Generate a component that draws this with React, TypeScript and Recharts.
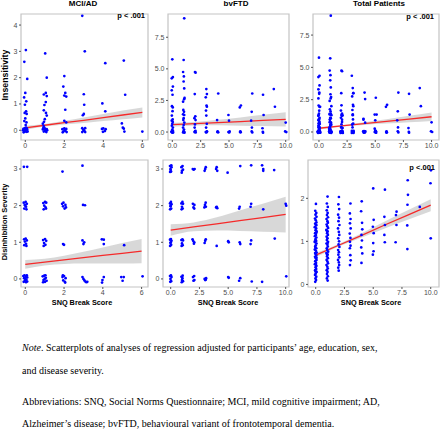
import { ComposedChart, Scatter, Line, Area, XAxis, YAxis, ReferenceArea } from 'recharts'

type Pt = [number, number]

// fitted line + 95% band: [x, fit, lo, hi]
type Fit = [number, number, number, number]

const mciIns: Pt[] = [
  [0.03, 3.05], [-0.05, 2.6], [0.1, 1.95], [0, 1.42], [-0.06, 1.25], [0.05, 1.1], [-0.02, 0.97], [0.04, 0.72],
  [-0.03, 0.66], [0.07, 0.62], [0, 0.45], [-0.05, 0.35], [0.06, 0.3], [0.02, 0.2],
  [-0.1, 0.05], [-0.05, -0.04], [0, 0.03], [0.05, -0.06], [0.1, 0.02], [-0.08, -0.08], [0.08, 0.07], [0.02, -0.02],
  [-0.03, 0.08], [0.12, -0.05], [-0.12, 0], [0.04, 0.1],
  [1.02, 2.92], [1.1, 2.0], [1.05, 1.42], [0.95, 1.36], [1.1, 1.3], [1.05, 1.07], [0.98, 0.96], [0.95, 0.76],
  [1.06, 0.66], [1.1, 0.56], [1.0, 0.42], [0.96, 0.32], [0.9, 0.25], [0.94, 0.16],
  [0.9, 0.03], [0.95, -0.05], [1.0, 0.06], [1.05, -0.03], [1.1, 0.04], [0.92, 0.08], [1.08, -0.07], [1.02, 0],
  [0.97, 0.1], [1.12, 0],
  [2.0, 2.06], [1.95, 1.66], [2.05, 1.42], [2.0, 1.32], [2.1, 1.28], [2.05, 0.78], [2.0, 0.36], [2.1, 0.3],
  [1.9, 0.04], [1.95, -0.05], [2.0, 0.07], [2.05, -0.02], [2.1, 0.05], [2.12, -0.07], [1.92, -0.08], [2.02, 0],
  [2.92, 4.35], [3.05, 3.0], [3.0, 1.37], [3.02, 0.97], [3.0, 0.62], [2.95, 0.57],
  [2.92, 0.08], [2.97, 0.03], [3.02, -0.02], [3.07, -0.07], [2.92, -0.07], [3.07, 0.08], [3.0, 0],
  [4.1, 2.55], [3.95, 1.02], [4.1, 0.72], [3.93, 0.05], [4.0, 0.07], [4.08, -0.03], [3.98, -0.06], [4.12, 0.04],
  [5.05, 2.65], [5.12, 1.35], [4.95, 0.26], [5.0, 0.1], [5.05, 0.06], [5.08, -0.05],
  [6.0, -0.05],
]

const ftdIns: Pt[] = [
  [0, 5.75], [0.05, 4.35], [-0.05, 4.25], [0.05, 3.6], [-0.05, 3.3], [0.02, 2.95], [-0.03, 2.05], [0.04, 1.95],
  [0.02, 1.65], [-0.04, 1.3], [0.03, 1.0], [-0.05, 0.9], [0.04, 0.8], [0, 0.65], [-0.04, 0.5], [0.05, 0.35],
  [0, 0.2], [-0.06, 0.05], [0.03, 0], [0.07, -0.03], [-0.03, 0.02], [0.01, -0.05], [-0.07, 0], [0.06, 0.08],
  [1.05, 9.0], [1.0, 5.7], [0.95, 4.75], [1.02, 4.4], [1.0, 4.0], [1.05, 3.45], [0.95, 2.4], [1.08, 2.7],
  [1.04, 2.6], [0.97, 1.75], [1.03, 1.6], [0.95, 1.4], [1.05, 1.35], [1.0, 1.1], [0.97, 0.95], [1.06, 0.75],
  [1.0, 0.55], [0.95, 0.35], [1.03, 0.2], [0.98, 0.05], [1.05, 0], [0.95, -0.03], [1.01, 0.03], [1.07, -0.05],
  [2.0, 4.75], [2.05, 4.7], [1.98, 3.0], [2.03, 1.25], [1.95, 1.1], [2.05, 0.95], [2.0, 0.6], [1.97, 0.35],
  [2.04, 0.1], [1.96, 0], [2.06, -0.03], [2.0, 0.05],
  [3.0, 3.4], [3.05, 3.0], [2.95, 2.75], [3.02, 2.1], [3.05, 2.0], [2.97, 1.7], [3.0, 1.3], [3.04, 0.65],
  [2.98, 0.35], [3.05, 0.05], [2.95, 0], [3.0, -0.03], [3.06, 0.02],
  [4.05, 3.05], [3.95, 0.95], [4.0, 0.05], [4.05, -0.02], [3.97, 0],
  [4.95, 1.35], [5.0, 0.9], [5.05, 0.05], [4.95, 0], [5.02, -0.03],
  [6.05, 2.1], [5.95, 1.95], [6.0, 0.05], [6.03, -0.02], [5.97, 0],
  [7.05, 3.05], [7.0, 1.6], [6.95, 0.9], [7.02, 0.35], [7.0, 0.05], [7.05, -0.03],
  [8.0, 2.95], [8.05, 1.35], [7.95, 0.3], [8.0, -0.05], [7.98, 0.02],
  [8.95, 3.4], [9.05, 2.0],
  [10.0, 0.75], [9.95, 0.05], [10.05, 0],
]

// total patients = both groups together
const totalIns: Pt[] = [...mciIns, ...ftdIns]

const mciDis: Pt[] = [
  [-0.07, 3.06], [0.1, 3.06], [1.92, 2.93], [2.95, 3.09],
  [-0.08, 2.08], [-0.03, 2.02], [0.04, 1.97], [0.08, 2.05], [-0.05, 1.92], [0.02, 2.1], [0.06, 1.9], [0, 2.0],
  [0.93, 2.07], [0.98, 2.0], [1.05, 1.95], [1.08, 2.08], [0.95, 1.9], [1.02, 2.1], [1.07, 1.92],
  [1.9, 2.05], [1.95, 1.98], [2.03, 1.92], [2.07, 2.02], [2.1, 1.95], [1.97, 2.08],
  [2.98, 2.02], [3.08, 2.01],
  [-0.06, 1.08], [-0.02, 1.02], [0.04, 0.96], [0.08, 1.05], [-0.05, 0.92], [0.02, 1.1], [0.06, 0.9],
  [0.92, 1.06], [0.97, 0.98], [1.04, 0.93], [1.08, 1.04], [0.95, 0.9], [1.02, 1.09],
  [1.95, 0.95], [2.0, 0.93],
  [2.95, 1.05], [3.0, 0.95], [3.04, 1.0],
  [3.95, 1.08], [4.05, 1.07], [4.05, 0.95],
  [5.1, 0.92],
  [-0.1, 0.08], [-0.06, 0.02], [-0.02, -0.05], [0.02, 0.06], [0.06, -0.02], [0.1, 0.04], [-0.08, -0.08],
  [0.04, -0.09], [0.08, 0.1], [-0.04, 0.1], [0, 0], [0.1, -0.07],
  [0.9, 0.07], [0.94, -0.03], [0.98, 0.09], [1.02, -0.08], [1.06, 0.03], [1.1, -0.05], [0.92, -0.09], [1.04, 0.1], [1.0, 0],
  [1.92, 0.05], [1.96, -0.04], [2.0, 0.08], [2.04, -0.08], [2.08, 0.02], [1.94, 0.1], [2.06, -0.1],
  [2.95, 0.05], [3.0, 0], [3.05, -0.04], [3.1, -0.07], [3.15, -0.09], [3.2, -0.08],
  [4.05, 0.05], [3.98, -0.03], [3.96, -0.1],
  [4.95, 0.05], [5.08, 0.05], [5.02, -0.05],
  [6.05, 0.07],
]

const ftdDis: Pt[] = [
  [-0.06, 3.08], [-0.02, 3.0], [0.03, 2.93], [0.07, 3.05], [-0.05, 2.92], [0.05, 3.1], [0, 2.97],
  [0.93, 3.05], [0.98, 2.95], [1.03, 3.08], [1.07, 2.98], [0.96, 2.9],
  [1.92, 3.0], [2.0, 2.98], [2.08, 3.0],
  [2.95, 2.95], [3.0, 3.0], [3.05, 3.05],
  [3.95, 3.0], [4.0, 3.05], [4.05, 2.95],
  [4.95, 2.9], [6.05, 3.08], [7.0, 3.1], [7.95, 3.1], [8.05, 3.0], [8.05, 2.95], [9.0, 2.97],
  [-0.06, 2.06], [-0.02, 1.98], [0.04, 1.92], [0.07, 2.04], [-0.05, 1.9], [0.02, 2.1], [0, 2.0],
  [0.93, 2.06], [0.98, 1.97], [1.04, 1.92], [1.07, 2.05], [0.95, 1.9], [1.02, 2.1],
  [1.93, 2.05], [1.98, 1.95], [2.05, 1.92], [2.06, 2.02],
  [2.93, 1.95], [2.98, 2.02], [3.04, 2.08], [3.06, 1.97],
  [3.95, 1.95], [4.0, 1.97], [4.05, 1.93],
  [5.95, 1.92], [6.0, 1.97], [6.95, 1.97], [7.0, 2.05], [8.05, 1.9], [10.0, 2.05], [10.05, 2.0],
  [-0.06, 1.07], [-0.02, 0.98], [0.04, 0.93], [0.07, 1.04], [-0.05, 0.9], [0.02, 1.09], [0, 1.0],
  [0.93, 1.06], [0.98, 0.97], [1.04, 0.92], [1.07, 1.05], [0.95, 0.9], [1.02, 1.08],
  [1.9, 1.08], [1.95, 1.04], [2.02, 0.96], [2.05, 1.0],
  [2.95, 0.98], [3.0, 1.04], [3.05, 1.08],
  [4.0, 0.9], [5.0, 1.03], [5.05, 1.0], [6.0, 1.0], [6.05, 0.95], [6.95, 0.95], [7.0, 1.05], [9.05, 1.1],
  [-0.06, 0.08], [-0.02, 0], [0.04, -0.06], [0.07, 0.05], [-0.04, -0.08], [0.02, 0.1],
  [0.93, 0.06], [0.98, -0.03], [1.04, 0.09], [1.07, -0.06], [0.96, -0.09], [1.02, 0.02],
  [1.94, 0.05], [1.98, -0.05], [2.04, 0.08], [2.06, -0.03],
  [2.95, 0], [3.0, -0.03], [3.05, -0.02], [3.08, 0.02],
  [5.0, 0.05], [5.05, 0.03], [5.95, -0.05], [6.05, 0.02], [7.05, -0.07], [7.95, -0.08], [10.05, 0.07],
]

const totalDis: Pt[] = [
  [0.02, 1.87], [-0.04, 1.71], [0.05, 1.66], [-0.02, 1.62], [0.07, 1.57], [-0.06, 1.53], [0.01, 1.49], [0.06, 1.44],
  [-0.05, 1.41], [0.03, 1.37], [-0.08, 1.33], [0.04, 1.3], [-0.01, 1.26], [0.08, 1.23], [-0.05, 1.19], [0.02, 1.15],
  [-0.07, 1.12], [0.06, 1.09], [-0.02, 1.05], [0.04, 1.01], [-0.06, 0.98], [0.07, 0.95], [0, 0.91], [-0.04, 0.88],
  [0.05, 0.84], [-0.08, 0.81], [0.02, 0.78], [0.08, 0.74], [-0.03, 0.71], [0.05, 0.67], [-0.06, 0.64], [0.01, 0.61],
  [0.07, 0.57], [-0.04, 0.54], [0.03, 0.5], [-0.07, 0.47], [0.06, 0.43], [-0.01, 0.4], [0.04, 0.36], [-0.05, 0.33],
  [0.08, 0.29], [0, 0.25], [-0.06, 0.22], [0.05, 0.18], [-0.02, 0.14], [0.03, 0.1], [-0.04, 0.06],
  [0.06, 1.2], [-0.03, 0.85], [0.07, 0.62], [-0.07, 1.0], [0.02, 0.45], [-0.05, 0.73], [0.05, 1.38], [-0.02, 0.3],
  [1.03, 2.04], [0.97, 1.88], [1.05, 1.8], [0.96, 1.72], [1.04, 1.66], [0.98, 1.61], [1.07, 1.56], [0.94, 1.52],
  [1.02, 1.47], [1.06, 1.43], [0.95, 1.39], [1.01, 1.35], [1.08, 1.31], [0.93, 1.27], [1.04, 1.23], [0.99, 1.19],
  [1.06, 1.15], [0.95, 1.11], [1.03, 1.07], [0.97, 1.03], [1.07, 0.99], [0.94, 0.95], [1.02, 0.92], [1.05, 0.88],
  [0.96, 0.84], [1.0, 0.8], [1.08, 0.76], [0.93, 0.73], [1.04, 0.69], [0.98, 0.65], [1.06, 0.61], [0.95, 0.57],
  [1.02, 0.53], [1.07, 0.49], [0.94, 0.45], [1.01, 0.41], [1.05, 0.37], [0.96, 0.33], [1.03, 0.29], [0.98, 0.24],
  [1.06, 0.19], [0.97, 0.14], [1.04, 0.09], [0.95, 1.25], [1.05, 0.97], [0.99, 0.7],
  [2.02, 2.03], [1.97, 1.86], [2.04, 1.75], [1.95, 1.62], [2.03, 1.55], [1.98, 1.47], [2.06, 1.38], [1.94, 1.3],
  [2.01, 1.22], [2.05, 1.15], [1.96, 1.07], [2.03, 1.0], [1.99, 0.93], [2.06, 0.87], [1.95, 0.8], [2.02, 0.75],
  [1.97, 0.69], [2.05, 0.63], [1.94, 0.57], [2.01, 0.51], [2.04, 0.45], [1.96, 0.39], [2.0, 0.32],
  [3.02, 1.88], [2.97, 1.65], [3.03, 1.52], [2.98, 1.42], [3.04, 1.3], [2.96, 1.18], [3.02, 1.08], [2.98, 0.99],
  [3.03, 0.9], [2.97, 0.84], [3.01, 0.68], [3.04, 0.56], [2.98, 0.45],
  [4.0, 1.93], [3.95, 1.7], [4.03, 1.43], [4.05, 1.28], [3.98, 1.15], [4.02, 1.02], [3.96, 0.86], [4.05, 0.72], [3.98, 0.5],
  [5.0, 2.23], [5.04, 1.5], [4.97, 1.34], [5.04, 1.19], [5.0, 0.96], [5.03, 0.77], [4.97, 0.69],
  [6.02, 2.2], [5.97, 1.57], [6.02, 1.38], [5.97, 1.15], [6.01, 0.98],
  [7.03, 1.69], [6.98, 1.61], [7.02, 1.38], [6.95, 0.98],
  [8.0, 2.42], [8.02, 2.08], [7.98, 1.85], [7.96, 1.37], [7.97, 0.82],
  [9.05, 1.8],
  [10.02, 2.65], [9.98, 2.35], [10.0, 1.07],
]

const mciInsFit: Fit[] = [
  [0, 0.09, 0.01, 0.17], [1, 0.19, 0.14, 0.24], [2, 0.29, 0.22, 0.36], [3, 0.38, 0.28, 0.49],
  [4, 0.48, 0.35, 0.62], [5, 0.58, 0.42, 0.75], [6, 0.68, 0.49, 0.87],
]
const ftdInsFit: Fit[] = [
  [0, 0.58, 0.42, 0.74], [2, 0.66, 0.52, 0.8], [4, 0.75, 0.53, 0.97],
  [6, 0.83, 0.5, 1.16], [8, 0.92, 0.47, 1.37], [10, 1.0, 0.44, 1.56],
]
const totalInsFit: Fit[] = [
  [0, 0.29, 0.2, 0.38], [2, 0.47, 0.41, 0.53], [4, 0.65, 0.55, 0.75],
  [6, 0.82, 0.65, 0.99], [8, 1.0, 0.75, 1.25], [10, 1.18, 0.85, 1.51],
]
const mciDisFit: Fit[] = [
  [0, 0.4, 0.28, 0.52], [1, 0.46, 0.37, 0.55], [2, 0.52, 0.41, 0.63], [3, 0.58, 0.42, 0.74],
  [4, 0.64, 0.42, 0.86], [5, 0.7, 0.42, 0.98], [6, 0.76, 0.43, 1.09],
]
const ftdDisFit: Fit[] = [
  [0, 1.33, 1.18, 1.49], [2, 1.42, 1.3, 1.54], [4, 1.5, 1.32, 1.68],
  [6, 1.59, 1.31, 1.87], [8, 1.67, 1.29, 2.05], [10, 1.76, 1.27, 2.24],
]
const totalDisFit: Fit[] = [
  [0, 0.68, 0.63, 0.73], [2, 0.91, 0.88, 0.94], [4, 1.14, 1.09, 1.19],
  [6, 1.38, 1.3, 1.46], [8, 1.61, 1.5, 1.72], [10, 1.84, 1.7, 1.98],
]

const ticksX6 = [0, 2, 4, 6]
const ticksX10 = [0, 2.5, 5, 7.5, 10]
const ticksYIns4 = [0, 1, 2, 3, 4]
const ticksYIns9 = [0, 2.5, 5, 7.5]
const ticksYDis3 = [0, 1, 2, 3]
const ticksYDis2 = [0, 1, 2]

const SANS = '"Liberation Sans", Arial, sans-serif'
const tickStyle = { fontSize: 7, fill: '#4d4d4d', fontFamily: SANS }

const int = (v: number) => String(v)
const dec = (v: number) => v.toFixed(1)

function Dot(props: any) {
  return <circle cx={props.cx} cy={props.cy} r={1.35} fill="#0000ff" />
}

interface PanelProps {
  box: [number, number, number, number]
  yw: number
  rp?: number
  xDomain: [number, number]
  yDomain: [number, number]
  xTicks: number[]
  yTicks: number[]
  xFmt: (v: number) => string
  yFmt: (v: number) => string
  points: Pt[]
  fit: Fit[]
}

function Panel({ box, yw, rp = 2, xDomain, yDomain, xTicks, yTicks, xFmt, yFmt, points, fit }: PanelProps) {
  const [x0, y0, x1, y1] = box
  const pad = 2
  const xh = 14
  const pts = points.map(([x, y]) => ({ x, y }))
  const rows = fit.map(([x, f, lo, hi]) => ({ x, fit: f, band: [lo, hi] }))
  return (
    <div style={{ position: 'absolute', left: x0 - yw, top: y0 - pad }}>
      <ComposedChart width={yw + (x1 - x0) + rp} height={pad + (y1 - y0) + xh} data={rows}
        margin={{ top: pad, right: rp, bottom: 0, left: 0 }}>
        <XAxis dataKey="x" type="number" domain={xDomain} ticks={xTicks} allowDataOverflow interval={0}
          axisLine={false} tickSize={2} tickMargin={1} height={xh} stroke="#555" tick={tickStyle} tickFormatter={xFmt} />
        <YAxis type="number" domain={yDomain} ticks={yTicks} allowDataOverflow interval={0}
          axisLine={false} tickSize={2} tickMargin={1.5} width={yw} stroke="#555" tick={tickStyle} tickFormatter={yFmt} />
        <Scatter data={pts} dataKey="y" shape={Dot} isAnimationActive={false} />
        <Area dataKey="band" type="monotone" stroke="none" fill="#999999" fillOpacity={0.38} isAnimationActive={false} />
        <Line dataKey="fit" type="linear" stroke="#f52a2a" strokeWidth={1.3} dot={false} activeDot={false} isAnimationActive={false} />
        <ReferenceArea x1={xDomain[0]} x2={xDomain[1]} y1={yDomain[0]} y2={yDomain[1]}
          fill="none" stroke="#c4c4c4" strokeWidth={1.2} ifOverflow="visible" />
      </ComposedChart>
    </div>
  )
}

const bold = { fontFamily: SANS, fontWeight: 700, color: '#000', lineHeight: 1, whiteSpace: 'nowrap' as const }

function Centered({ x, y, size, rotate, children }: { x: number; y: number; size: number; rotate?: boolean; children: any }) {
  return (
    <div style={{ ...bold, position: 'absolute', left: x, top: y, fontSize: size,
      transform: `translate(-50%, -50%)${rotate ? ' rotate(-90deg)' : ''}` }}>
      {children}
    </div>
  )
}

function PLabel({ right, y, text }: { right: number; y: number; text: string }) {
  return (
    <div style={{ ...bold, position: 'absolute', right: 440 - right, top: y, fontSize: 7.5, transform: 'translateY(-50%)' }}>
      {text}
    </div>
  )
}

const SERIF = '"Liberation Serif", "Times New Roman", serif'

function NoteLine({ y, children }: { y: number; children: any }) {
  return (
    <div style={{ position: 'absolute', left: 22, top: y - 6, fontFamily: SERIF, fontSize: 10, lineHeight: '12px',
      color: '#000', whiteSpace: 'nowrap' }}>
      {children}
    </div>
  )
}

export default function App() {
  return (
    <div style={{ position: 'relative', width: 440, height: 430, overflow: 'hidden', background: '#fff' }}>
      <style>{'body{margin:0;overflow:hidden}'}</style>

      <Panel box={[21, 14, 148, 140]} yw={21} xDomain={[-0.22, 6.29]} yDomain={[-0.37, 4.42]}
        xTicks={ticksX6} yTicks={ticksYIns4} xFmt={int} yFmt={int} points={mciIns} fit={mciInsFit} />
      <Panel box={[168, 14, 289, 140]} yw={18} rp={9} xDomain={[-0.38, 10.29]} yDomain={[-0.63, 9.34]}
        xTicks={ticksX10} yTicks={ticksYIns9} xFmt={dec} yFmt={dec} points={ftdIns} fit={ftdInsFit} />
      <Panel box={[313, 14, 439, 140]} yw={18} xDomain={[-0.53, 10.66]} yDomain={[-0.62, 9.13]}
        xTicks={ticksX10} yTicks={ticksYIns9} xFmt={dec} yFmt={dec} points={totalIns} fit={totalInsFit} />
      <Panel box={[21, 160, 148, 287]} yw={21} xDomain={[-0.22, 6.33]} yDomain={[-0.22, 3.245]}
        xTicks={ticksX6} yTicks={ticksYDis3} xFmt={int} yFmt={int} points={mciDis} fit={mciDisFit} />
      <Panel box={[163, 160, 289, 287]} yw={14} rp={9} xDomain={[-0.67, 10.29]} yDomain={[-0.22, 3.245]}
        xTicks={ticksX10} yTicks={ticksYDis3} xFmt={dec} yFmt={int} points={ftdDis} fit={ftdDisFit} />
      <Panel box={[308, 160, 439, 287]} yw={14} xDomain={[-0.67, 10.72]} yDomain={[-0.06, 2.89]}
        xTicks={ticksX10} yTicks={ticksYDis2} xFmt={dec} yFmt={int} points={totalDis} fit={totalDisFit} />

      <Centered x={83} y={4} size={8}>MCI/AD</Centered>
      <Centered x={236} y={4} size={8}>bvFTD</Centered>
      <Centered x={379} y={4} size={8}>Total Patients</Centered>

      <PLabel right={145} y={16} text="p < .001" />
      <PLabel right={434} y={16.5} text="p < .001" />
      <PLabel right={435} y={167.5} text="p <.001" />

      <Centered x={4.5} y={75} size={8.8} rotate>Insensitivity</Centered>
      <Centered x={4.5} y={222} size={7.5} rotate>Disinhibition Severity</Centered>

      <Centered x={82} y={302.5} size={7.3}>SNQ Break Score</Centered>
      <Centered x={228} y={302.5} size={7.3}>SNQ Break Score</Centered>
      <Centered x={371} y={302.5} size={7.3}>SNQ Break Score</Centered>

      <NoteLine y={347.7}><i>Note</i>. Scatterplots of analyses of regression adjusted for participants’ age, education, sex,</NoteLine>
      <NoteLine y={370.7}>and disease severity.</NoteLine>
      <NoteLine y={401.7}>Abbreviations: SNQ, Social Norms Questionnaire; MCI, mild cognitive impairment; AD,</NoteLine>
      <NoteLine y={424}>Alzheimer’s disease; bvFTD, behavioural variant of frontotemporal dementia.</NoteLine>
    </div>
  )
}
